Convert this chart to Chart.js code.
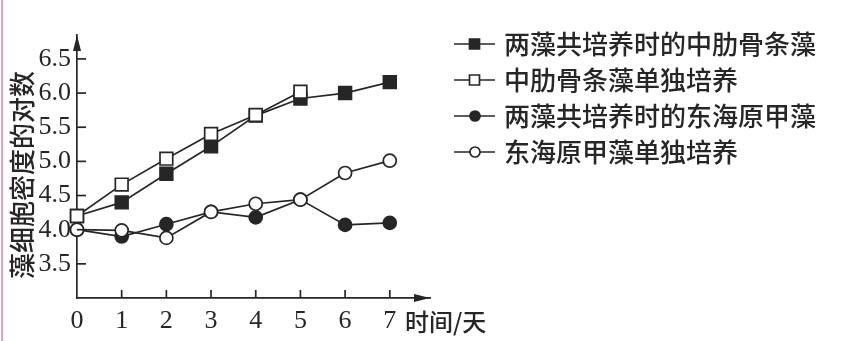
<!DOCTYPE html>
<html>
<head>
<meta charset="utf-8">
<script src="https://cdn.jsdelivr.net/npm/chart.js@4"></script>
<style>
  html, body { margin: 0; padding: 0; background: #fff; }
  #wrap { position: relative; width: 846px; height: 341px; }
  #edge { position: absolute; left: 1px; top: 0; width: 2px; height: 341px; background: #e4a3c0; }
</style>
</head>
<body>
<div id="wrap">
  <canvas id="chart" width="846" height="341"></canvas>
  <div id="edge"></div>
</div>
<script>
// days on the x axis
const days = [0, 1, 2, 3, 4, 5, 6, 7];

// log of cell density
const coSkeletonema = [4.2, 4.4, 4.82, 5.22, 5.67, 5.92, 6.0, 6.16];
const soloSkeletonema = [4.2, 4.66, 5.04, 5.4, 5.68, 6.02];
const coProrocentrum = [4.0, 3.9, 4.08, 4.26, 4.18, 4.44, 4.07, 4.1];
const soloProrocentrum = [4.0, 3.99, 3.88, 4.26, 4.38, 4.44, 4.83, 5.01];

const seriesNames = ['两藻共培养时的中肋骨条藻', '中肋骨条藻单独培养', '两藻共培养时的东海原甲藻', '东海原甲藻单独培养'];
const yTickValues = [3.5, 4.0, 4.5, 5.0, 5.5, 6.0, 6.5];
const xTickValues = [0, 1, 2, 3, 4, 5, 6, 7];

const INK = '#262626';
const CJK = '"Noto Sans CJK SC", "Noto Sans", sans-serif';
const SERIF = '"Liberation Serif", "DejaVu Serif", serif';

const toPoints = vals => vals.map((v, i) => ({ x: days[i], y: v }));

function series(label, vals, style, filled) {
    return {
        label: label,
        data: toPoints(vals),
        order: filled ? 1 : 0,   // open markers sit on top where points coincide
        clip: false,
        borderColor: INK,
        borderWidth: 1.7,
        pointStyle: style,
        pointRadius: style === 'rect' ? 9 : 6.5,
        pointBorderWidth: 1.7,
        pointBorderColor: INK,
        pointBackgroundColor: filled ? INK : '#fff',
        tension: 0,
        fill: false
    };
}

// axis arrows, inward tick marks, y title and legend
const decor = {
    id: 'decor',
    afterDraw(chart) {
        const { ctx, chartArea: a, scales: { x, y } } = chart;
        ctx.save();
        ctx.fillStyle = INK;
        ctx.strokeStyle = INK;
        ctx.lineWidth = 1.7;

        // tick marks pointing into the plot
        xTickValues.forEach(v => {
            if (v === 0) return;
            const px = x.getPixelForValue(v);
            ctx.beginPath();
            ctx.moveTo(px, a.bottom);
            ctx.lineTo(px, a.bottom - 8);
            ctx.stroke();
        });
        yTickValues.forEach(v => {
            const py = y.getPixelForValue(v);
            ctx.beginPath();
            ctx.moveTo(a.left, py);
            ctx.lineTo(a.left + 9, py);
            ctx.stroke();
        });

        // arrow heads
        ctx.beginPath();
        ctx.moveTo(a.left, a.top);
        ctx.lineTo(a.left - 4, a.top + 16);
        ctx.lineTo(a.left + 4, a.top + 16);
        ctx.closePath();
        ctx.fill();
        ctx.beginPath();
        ctx.moveTo(a.right, a.bottom);
        ctx.lineTo(a.right - 16, a.bottom - 4);
        ctx.lineTo(a.right - 16, a.bottom + 4);
        ctx.closePath();
        ctx.fill();

        // y axis title
        ctx.save();
        ctx.translate(22, 175);
        ctx.rotate(-Math.PI / 2);
        ctx.font = '500 26px ' + CJK;
        ctx.textAlign = 'center';
        ctx.textBaseline = 'middle';
        ctx.fillText('藻细胞密度的对数', 0, 0);
        ctx.restore();

        // x axis unit
        ctx.font = '500 24px ' + CJK;
        ctx.textAlign = 'left';
        ctx.textBaseline = 'middle';
        ctx.fillText('时间/天', 405, 322);

        // legend, in the original dataset order
        const rowY = [44, 80, 116, 152];
        chart.data.datasets.forEach((ds, i) => {
            const cy = rowY[i];
            ctx.lineWidth = 1.7;
            ctx.beginPath();
            ctx.moveTo(454, cy);
            ctx.lineTo(495, cy);
            ctx.stroke();
            ctx.fillStyle = ds.pointBackgroundColor;
            ctx.beginPath();
            if (ds.pointStyle === 'rect') {
                ctx.rect(469.5, cy - 5, 10, 10);
            } else {
                ctx.arc(475, cy, 5, 0, Math.PI * 2);
            }
            ctx.fill();
            ctx.stroke();
            ctx.fillStyle = INK;
            ctx.font = '500 26px ' + CJK;
            ctx.textAlign = 'left';
            ctx.textBaseline = 'middle';
            ctx.fillText(ds.label, 504, cy);
        });
        ctx.restore();
    }
};

new Chart(document.getElementById('chart'), {
    type: 'line',
    data: {
        datasets: [
            series(seriesNames[0], coSkeletonema, 'rect', true),
            series(seriesNames[1], soloSkeletonema, 'rect', false),
            series(seriesNames[2], coProrocentrum, 'circle', true),
            series(seriesNames[3], soloProrocentrum, 'circle', false)
        ]
    },
    options: {
        responsive: false,
        animation: false,
        layout: { padding: { left: 0, top: 35, right: 416, bottom: 0 } },
        plugins: { legend: { display: false }, tooltip: { enabled: false } },
        scales: {
            x: {
                type: 'linear',
                min: 0,
                max: 7.9,
                afterFit: s => { s.height = 43; },
                afterBuildTicks: s => { s.ticks = xTickValues.map(v => ({ value: v })); },
                grid: { display: false, drawTicks: false },
                border: { display: true, color: INK, width: 1.7 },
                ticks: {
                    color: INK,
                    padding: 8,
                    font: { family: SERIF, size: 26 },
                    callback: v => String(v)
                }
            },
            y: {
                type: 'linear',
                min: 3,
                max: 6.85,
                afterFit: s => { s.width = 77; },
                afterBuildTicks: s => { s.ticks = yTickValues.map(v => ({ value: v })); },
                grid: { display: false, drawTicks: false },
                border: { display: true, color: INK, width: 1.7 },
                ticks: {
                    color: INK,
                    padding: 6,
                    font: { family: SERIF, size: 26 },
                    callback: v => v.toFixed(1)
                }
            }
        }
    },
    plugins: [decor]
});
</script>
</body>
</html>
